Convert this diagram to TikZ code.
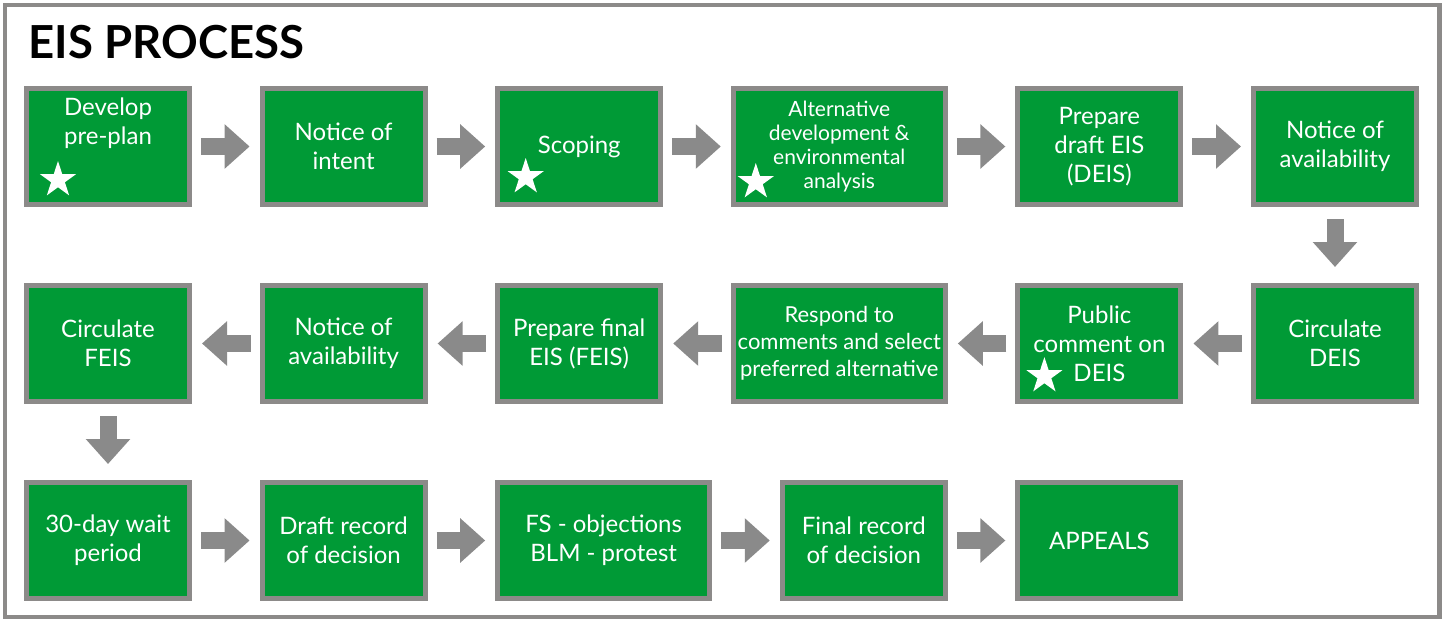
\documentclass[tikz,border=0pt]{standalone}
\usepackage{fontspec}
\setmainfont{Lato}
\usetikzlibrary{shapes,positioning,arrows.meta}
\definecolor{eisgreen}{HTML}{009A36}
\definecolor{eisgray}{HTML}{8C8A89}
\definecolor{arrgray}{HTML}{8A8A8A}

\begin{document}
\begin{tikzpicture}[
      x=1pt, y=1pt,
      stepbox/.style = {rectangle, fill=eisgreen, draw=eisgray, line width=5pt,
        minimum width=163pt, minimum height=116pt, text=white, align=center,
        inner sep=0pt, font=\fontsize{24}{29}\selectfont},
      widebox/.style = {stepbox, minimum width=212pt},
      steptext/.style = {text=white, align=center, font=\fontsize{24}{29}\selectfont},
      smalltext/.style = {font=\fontsize{21}{24}\selectfont},
      midtext/.style = {font=\fontsize{22}{27}\selectfont},
      starmark/.style = {star, star points=5, star point ratio=2.618, fill=white,
        inner sep=0pt, minimum size=38pt},
      arr/.style = {color=arrgray, line width=17pt,
        -{Triangle[width=43pt,length=25pt]}, shorten <=9pt, shorten >=10pt},
      darr/.style = {arr, shorten <=12pt, shorten >=16pt},
      node distance = 76pt and 67.6pt
      ]
      \useasboundingbox (0,0) rectangle (1442,-619);
      \draw[eisgray, line width=4.5pt] (5,-5) rectangle (1439.5,-617);
      \node[anchor=base west, font=\fontsize{45.5}{46}\bfseries\selectfont] (title) at (25,-58) {EIS PROCESS};

      % row 1
      \node[stepbox] (pre) at (108,-146.5) {};
      \node[steptext] (pretext) at ([yshift=23pt]pre) {Develop\\pre-plan};
      \node[stepbox, right=of pre] (noi) {Notice of\\intent};
      \node[stepbox, right=of noi] (scope) {Scoping};
      \node[widebox, smalltext, right=of scope] (alt) {Alternative\\development \&\\environmental\\analysis};
      \node[stepbox, right=of alt] (deis) {Prepare\\draft EIS\\(DEIS)};
      \node[stepbox, right=of deis] (noa) {Notice of\\availability};

      % row 2
      \node[stepbox, below=of noa] (circd) {Circulate\\DEIS};
      \node[stepbox, left=of circd] (pub) {Public\\comment on\\DEIS};
      \node[widebox, midtext, left=of pub] (resp) {Respond to\\comments and select\\preferred alternative};
      \node[stepbox, left=of resp] (feis) {Prepare final\\EIS (FEIS)};
      \node[stepbox, left=of feis] (noaf) {Notice of\\availability};
      \node[stepbox, left=of noaf] (circf) {Circulate\\FEIS};

      % row 3
      \node[stepbox, below=of circf] (wait) {30-day wait\\period};
      \node[stepbox, right=of wait] (rod) {Draft record\\of decision};
      \node[widebox, right=of rod] (obj) {FS - objections\\BLM - protest};
      \node[stepbox, right=of obj] (frod) {Final record\\of decision};
      \node[stepbox, right=of frod] (app) {APPEALS};

      % stars
      \node[starmark] (s1) at ([shift={(34,27)}]pre.south west) {};
      \node[starmark] (s2) at ([shift={(30.5,30)}]scope.south west) {};
      \node[starmark] (s3) at ([shift={(25,25)}]alt.south west) {};
      \node[starmark] (s4) at ([shift={(29,28)}]pub.south west) {};

      % arrows
      \draw[arr] (pre) -- (noi);
      \draw[arr] (noi) -- (scope);
      \draw[arr] (scope) -- (alt);
      \draw[arr] (alt) -- (deis);
      \draw[arr] (deis) -- (noa);
      \draw[darr] (noa) -- (circd);
      \draw[arr] (circd) -- (pub);
      \draw[arr] (pub) -- (resp);
      \draw[arr] (resp) -- (feis);
      \draw[arr] (feis) -- (noaf);
      \draw[arr] (noaf) -- (circf);
      \draw[darr] (circf) -- (wait);
      \draw[arr] (wait) -- (rod);
      \draw[arr] (rod) -- (obj);
      \draw[arr] (obj) -- (frod);
      \draw[arr] (frod) -- (app);
    \end{tikzpicture}
\end{document}
